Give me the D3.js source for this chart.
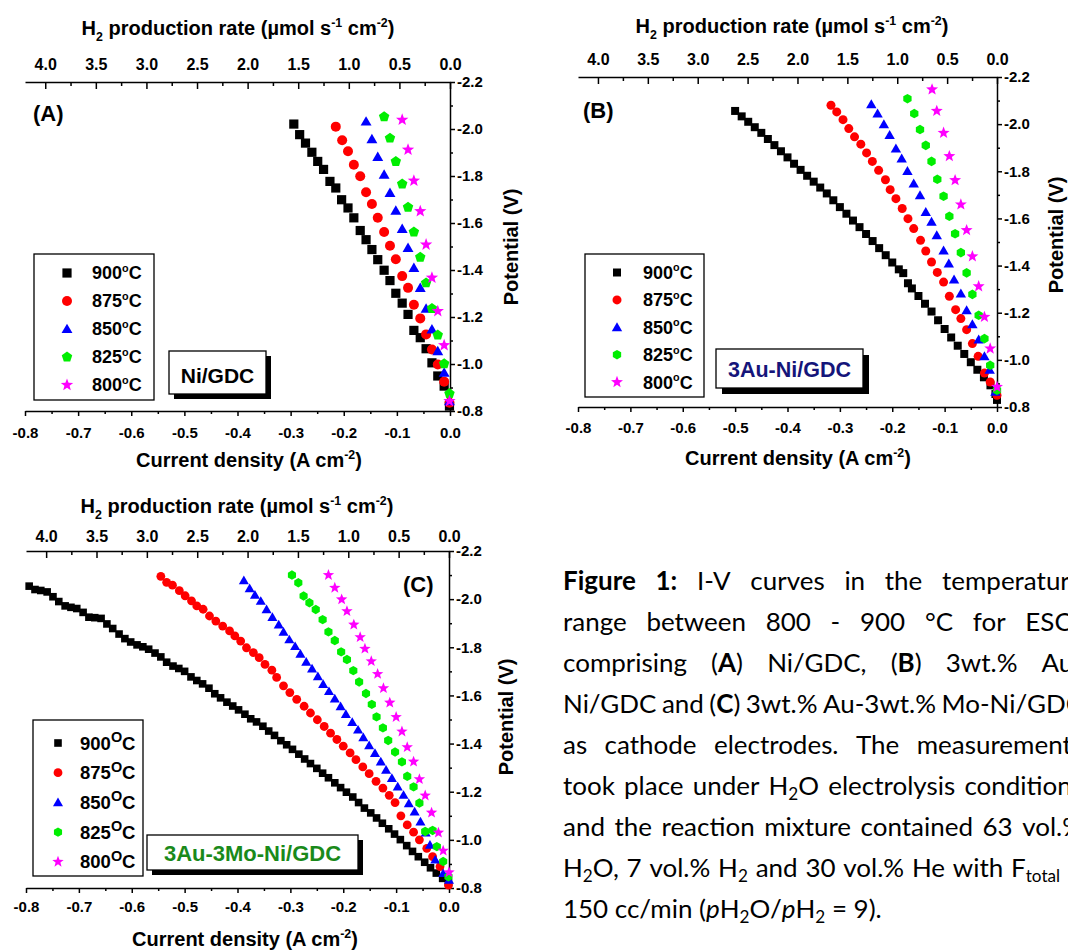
<!DOCTYPE html>
<html>
<head>
<meta charset="utf-8">
<script src="https://cdn.jsdelivr.net/npm/d3@7"></script>
<style>
  body { margin: 0; background: #fff; }
  svg { display: block; }
</style>
</head>
<body>
<script>
// ---- data (current density A cm-2, potential V) ----
const temps = ['900', '875', '850', '825', '800']
const currentTicks = [-0.8, -0.7, -0.6, -0.5, -0.4, -0.3, -0.2, -0.1, 0.0]
const potentialTicks = [-2.2, -2.0, -1.8, -1.6, -1.4, -1.2, -1.0, -0.8]
const rateTicks = [4.0, 3.5, 3.0, 2.5, 2.0, 1.5, 1.0, 0.5, 0.0]

// (A) Ni/GDC
const a900 = [[-0.294, -2.021], [-0.283, -1.976], [-0.272, -1.940], [-0.260, -1.901], [-0.249, -1.862], [-0.238, -1.828], [-0.226, -1.777], [-0.215, -1.749], [-0.204, -1.699], [-0.192, -1.664], [-0.181, -1.622], [-0.169, -1.568], [-0.158, -1.529], [-0.147, -1.487], [-0.136, -1.444], [-0.124, -1.399], [-0.113, -1.355], [-0.102, -1.301], [-0.090, -1.259], [-0.079, -1.211], [-0.068, -1.143], [-0.056, -1.112], [-0.045, -1.065], [-0.034, -1.005], [-0.023, -0.949], [-0.011, -0.906], [-0.001, -0.821]]
const a875 = [[-0.215, -2.010], [-0.203, -1.952], [-0.192, -1.905], [-0.181, -1.848], [-0.169, -1.799], [-0.158, -1.731], [-0.147, -1.681], [-0.136, -1.622], [-0.124, -1.562], [-0.113, -1.503], [-0.102, -1.446], [-0.090, -1.374], [-0.079, -1.324], [-0.068, -1.252], [-0.056, -1.194], [-0.045, -1.126], [-0.034, -1.062], [-0.023, -0.998], [-0.011, -0.925], [-0.001, -0.835]]
const a850 = [[-0.158, -2.032], [-0.147, -1.957], [-0.136, -1.881], [-0.124, -1.806], [-0.113, -1.728], [-0.102, -1.653], [-0.090, -1.575], [-0.079, -1.494], [-0.068, -1.409], [-0.056, -1.324], [-0.045, -1.236], [-0.034, -1.147], [-0.023, -1.055], [-0.011, -0.963], [-0.001, -0.842]]
const a825 = [[-0.124, -2.052], [-0.113, -1.961], [-0.102, -1.862], [-0.090, -1.766], [-0.079, -1.667], [-0.068, -1.562], [-0.056, -1.454], [-0.045, -1.345], [-0.034, -1.236], [-0.023, -1.123], [-0.011, -1.001], [-0.001, -0.874]]
const a800 = [[-0.090, -2.039], [-0.079, -1.912], [-0.068, -1.780], [-0.056, -1.650], [-0.045, -1.508], [-0.034, -1.367], [-0.023, -1.225], [-0.011, -1.080], [-0.001, -0.842]]

// (B) 3Au-Ni/GDC
const b900 = [[-0.500, -2.056], [-0.4875, -2.033], [-0.475, -2.010], [-0.4625, -1.987], [-0.450, -1.963], [-0.4375, -1.937], [-0.425, -1.911], [-0.4125, -1.885], [-0.400, -1.859], [-0.3875, -1.832], [-0.375, -1.806], [-0.3625, -1.781], [-0.350, -1.756], [-0.3375, -1.731], [-0.325, -1.706], [-0.3125, -1.677], [-0.300, -1.648], [-0.2875, -1.620], [-0.275, -1.591], [-0.2625, -1.563], [-0.250, -1.534], [-0.2375, -1.504], [-0.225, -1.474], [-0.2125, -1.444], [-0.200, -1.413], [-0.1875, -1.384], [-0.179, -1.368], [-0.170, -1.325], [-0.1625, -1.303], [-0.150, -1.271], [-0.1375, -1.238], [-0.125, -1.205], [-0.1125, -1.168], [-0.100, -1.131], [-0.0875, -1.095], [-0.075, -1.060], [-0.0625, -1.025], [-0.050, -0.990], [-0.0375, -0.958], [-0.025, -0.926], [-0.0125, -0.892], [-0.003, -0.855], [0.0, -0.830]]
const b875 = [[-0.317, -2.080], [-0.306, -2.052], [-0.294, -2.019], [-0.283, -1.981], [-0.272, -1.946], [-0.260, -1.915], [-0.249, -1.878], [-0.238, -1.842], [-0.226, -1.804], [-0.213, -1.764], [-0.204, -1.722], [-0.193, -1.684], [-0.181, -1.642], [-0.170, -1.599], [-0.159, -1.557], [-0.146, -1.507], [-0.136, -1.462], [-0.125, -1.415], [-0.114, -1.371], [-0.102, -1.330], [-0.091, -1.270], [-0.079, -1.213], [-0.069, -1.175], [-0.058, -1.128], [-0.047, -1.069], [-0.036, -1.015], [-0.024, -0.944], [-0.013, -0.906], [0.0, -0.850]]
const b850 = [[-0.240, -2.084], [-0.228, -2.045], [-0.216, -1.999], [-0.205, -1.953], [-0.193, -1.896], [-0.182, -1.854], [-0.171, -1.801], [-0.159, -1.748], [-0.147, -1.698], [-0.136, -1.627], [-0.125, -1.585], [-0.115, -1.528], [-0.102, -1.464], [-0.092, -1.408], [-0.082, -1.340], [-0.069, -1.281], [-0.058, -1.210], [-0.047, -1.151], [-0.035, -1.086], [-0.024, -1.015], [-0.014, -0.958], [-0.003, -0.864]]
const b825 = [[-0.171, -2.108], [-0.158, -2.045], [-0.147, -1.977], [-0.136, -1.910], [-0.125, -1.842], [-0.114, -1.766], [-0.102, -1.694], [-0.091, -1.609], [-0.080, -1.535], [-0.069, -1.455], [-0.058, -1.369], [-0.047, -1.278], [-0.035, -1.189], [-0.024, -1.090], [-0.013, -0.977], [0.0, -0.871]]
const b800 = [[-0.124, -2.147], [-0.115, -2.056], [-0.102, -1.963], [-0.091, -1.864], [-0.080, -1.762], [-0.069, -1.659], [-0.058, -1.550], [-0.047, -1.439], [-0.035, -1.312], [-0.024, -1.182], [-0.013, -1.048], [0.0, -0.885]]

// (C) 3Au-3Mo-Ni/GDC
const c900 = [[-0.794, -2.054], [-0.783, -2.040], [-0.772, -2.036], [-0.760, -2.030], [-0.749, -2.010], [-0.738, -1.990], [-0.726, -1.972], [-0.715, -1.966], [-0.704, -1.961], [-0.692, -1.945], [-0.681, -1.925], [-0.670, -1.923], [-0.658, -1.920], [-0.647, -1.897], [-0.636, -1.878], [-0.624, -1.855], [-0.613, -1.836], [-0.602, -1.822], [-0.590, -1.810], [-0.579, -1.802], [-0.568, -1.792], [-0.556, -1.776], [-0.545, -1.760], [-0.534, -1.738], [-0.522, -1.722], [-0.511, -1.712], [-0.500, -1.700], [-0.488, -1.677], [-0.477, -1.662], [-0.466, -1.648], [-0.454, -1.630], [-0.443, -1.607], [-0.432, -1.590], [-0.420, -1.572], [-0.409, -1.556], [-0.398, -1.540], [-0.386, -1.522], [-0.375, -1.503], [-0.364, -1.490], [-0.352, -1.472], [-0.341, -1.452], [-0.330, -1.434], [-0.318, -1.412], [-0.307, -1.395], [-0.296, -1.376], [-0.284, -1.356], [-0.273, -1.336], [-0.262, -1.317], [-0.250, -1.297], [-0.239, -1.277], [-0.228, -1.258], [-0.216, -1.237], [-0.205, -1.217], [-0.194, -1.198], [-0.182, -1.178], [-0.171, -1.155], [-0.160, -1.132], [-0.148, -1.112], [-0.137, -1.091], [-0.126, -1.069], [-0.114, -1.046], [-0.103, -1.024], [-0.092, -1.001], [-0.080, -0.976], [-0.069, -0.952], [-0.058, -0.930], [-0.046, -0.907], [-0.035, -0.884], [-0.024, -0.862], [-0.012, -0.840], [-0.001, -0.822]]
const c875 = [[-0.545, -2.095], [-0.534, -2.070], [-0.523, -2.058], [-0.510, -2.035], [-0.499, -2.014], [-0.487, -1.993], [-0.477, -1.972], [-0.465, -1.958], [-0.453, -1.930], [-0.441, -1.909], [-0.428, -1.888], [-0.415, -1.868], [-0.405, -1.847], [-0.394, -1.826], [-0.383, -1.798], [-0.370, -1.778], [-0.359, -1.757], [-0.348, -1.729], [-0.335, -1.705], [-0.326, -1.675], [-0.313, -1.640], [-0.301, -1.612], [-0.288, -1.584], [-0.274, -1.555], [-0.262, -1.527], [-0.249, -1.499], [-0.236, -1.471], [-0.224, -1.443], [-0.212, -1.417], [-0.200, -1.389], [-0.187, -1.361], [-0.176, -1.333], [-0.163, -1.303], [-0.151, -1.275], [-0.138, -1.243], [-0.125, -1.215], [-0.113, -1.185], [-0.102, -1.155], [-0.091, -1.100], [-0.079, -1.062], [-0.067, -1.032], [-0.056, -1.000], [-0.042, -0.965], [-0.031, -0.930], [-0.017, -0.889], [-0.001, -0.812]]
const c850 = [[-0.388, -2.078], [-0.377, -2.044], [-0.367, -2.017], [-0.356, -1.992], [-0.345, -1.957], [-0.334, -1.925], [-0.322, -1.894], [-0.313, -1.864], [-0.302, -1.832], [-0.291, -1.804], [-0.281, -1.772], [-0.270, -1.739], [-0.259, -1.711], [-0.248, -1.679], [-0.238, -1.647], [-0.227, -1.617], [-0.216, -1.586], [-0.205, -1.554], [-0.195, -1.522], [-0.183, -1.489], [-0.172, -1.457], [-0.162, -1.425], [-0.151, -1.392], [-0.140, -1.360], [-0.129, -1.325], [-0.119, -1.290], [-0.108, -1.256], [-0.097, -1.221], [-0.086, -1.186], [-0.076, -1.151], [-0.065, -1.117], [-0.054, -1.075], [-0.044, -1.030], [-0.036, -0.979], [-0.026, -0.917], [-0.011, -0.861], [0.0, -0.833]]
const c825 = [[-0.297, -2.100], [-0.285, -2.068], [-0.275, -2.013], [-0.264, -1.985], [-0.252, -1.957], [-0.239, -1.915], [-0.228, -1.864], [-0.216, -1.828], [-0.204, -1.781], [-0.193, -1.749], [-0.181, -1.703], [-0.170, -1.656], [-0.157, -1.608], [-0.146, -1.563], [-0.137, -1.511], [-0.125, -1.465], [-0.115, -1.413], [-0.102, -1.365], [-0.089, -1.324], [-0.079, -1.264], [-0.067, -1.220], [-0.056, -1.153], [-0.045, -1.035], [-0.031, -1.039], [-0.023, -0.972], [-0.011, -0.910], [-0.001, -0.847]]
const c800 = [[-0.228, -2.100], [-0.216, -2.047], [-0.203, -1.999], [-0.193, -1.950], [-0.180, -1.894], [-0.168, -1.842], [-0.159, -1.794], [-0.147, -1.742], [-0.135, -1.689], [-0.124, -1.630], [-0.112, -1.570], [-0.100, -1.510], [-0.089, -1.450], [-0.079, -1.385], [-0.067, -1.325], [-0.056, -1.252], [-0.045, -1.184], [-0.033, -1.113], [-0.020, -1.030], [-0.011, -0.955], [0.0, -0.865]]

const captionLines = [
  '**Figure 1:** I-V curves in the temperature',
  'range between 800 - 900 °C for ESCs',
  'comprising (**A**) Ni/GDC, (**B**) 3wt.% Au-',
  'Ni/GDC and (**C**) 3wt.% Au-3wt.% Mo-Ni/GDC',
  'as cathode electrodes. The measurements',
  'took place under H~2~O electrolysis conditions',
  'and the reaction mixture contained 63 vol.%',
  'H~2~O, 7 vol.% H~2~ and 30 vol.% He with F~total~ =',
  '150 cc/min (_p_H~2~O/_p_H~2~ = 9).'
]

const colours = ['#000000', '#ff0000', '#0000ff', '#00ee00', '#ff00ff']
const axisFont = "'Liberation Sans', Arial, sans-serif"
const captionFont = "Lato, 'Open Sans', sans-serif"

const svg = d3.select('body').append('svg')
  .attr('width', 1068)
  .attr('height', 950)

const fmt = d => d3.format('.1f')(d).replace('\u2212', '-')

// marker outline: regular polygons, star, circle, square
function markerPath (shape, r) {
  if (shape === 'circle') return d3.symbol(d3.symbolCircle, Math.PI * r * r)()
  if (shape === 'square') return `M${-r},${-r}h${2 * r}v${2 * r}h${-2 * r}Z`
  const pts = []
  if (shape === 'star') {
    for (let k = 0; k < 10; k++) {
      const rr = k % 2 ? r * 0.42 : r
      const a = -Math.PI / 2 + k * Math.PI / 5
      pts.push([rr * Math.cos(a), rr * Math.sin(a)])
    }
  } else {
    const n = { triangle: 3, pentagon: 5, hexagon: 6 }[shape]
    const dy = shape === 'triangle' ? r * 0.15 : 0
    for (let k = 0; k < n; k++) {
      const a = -Math.PI / 2 + k * 2 * Math.PI / n
      pts.push([r * Math.cos(a), r * Math.sin(a) + dy])
    }
  }
  return 'M' + pts.map(p => p.map(v => v.toFixed(2)).join(',')).join('L') + 'Z'
}

// text with sub/superscript parts: [[text, 'sub'|'sup'|undefined], ...]
function richText (parent, parts, size) {
  const t = parent.append('text')
    .attr('font-family', axisFont)
    .attr('font-weight', 'bold')
    .attr('font-size', size)
  let shift = 0
  parts.forEach(([str, kind]) => {
    const target = kind === 'sub' ? size * 0.3 : kind === 'sup' ? -size * 0.4 : 0
    const ts = t.append('tspan').text(str)
    if (target !== shift) ts.attr('dy', target - shift)
    if (kind) ts.attr('font-size', size * 0.62)
    shift = target
  })
  return t
}

function styleAxis (sel, size) {
  sel.attr('font-family', axisFont).attr('font-size', size).attr('font-weight', 'bold')
  sel.selectAll('path, line').attr('stroke', '#000').attr('stroke-width', 1.5)
  sel.selectAll('text').attr('fill', '#000')
}

function drawPanel (cfg) {
  const g = svg.append('g').attr('class', `panel-${cfg.id}`)
  const x = d3.scaleLinear().domain([-0.8, 0]).range([cfg.left, cfg.right])
  const y = d3.scaleLinear().domain([-0.8, -2.2]).range([cfg.bottom, cfg.top])
  const xRate = d3.scaleLinear().domain([4.2, 0]).range([cfg.left, cfg.right])

  const currentMinor = d3.range(-0.75, 0, 0.1)
  const potentialMinor = d3.range(-2.1, -0.85, 0.2)
  const rateMinor = d3.range(3.75, 0, -0.5)

  // bottom axis
  g.append('g').attr('transform', `translate(0,${cfg.bottom})`)
    .call(d3.axisBottom(x).tickValues(currentMinor).tickFormat('').tickSize(3).tickSizeOuter(0))
    .call(s => s.select('.domain').remove())
    .call(s => styleAxis(s, 15))
  g.append('g').attr('transform', `translate(0,${cfg.bottom})`)
    .call(d3.axisBottom(x).tickValues(currentTicks).tickFormat(fmt).tickSize(5).tickPadding(cfg.bottomPad).tickSizeOuter(0))
    .call(s => styleAxis(s, 15))

  // top axis (H2 production rate), ticks point inward
  g.append('g').attr('transform', `translate(0,${cfg.top})`)
    .call(d3.axisTop(xRate).tickValues(rateMinor).tickFormat('').tickSize(-4).tickSizeOuter(0))
    .call(s => s.select('.domain').remove())
    .call(s => styleAxis(s, 16))
  g.append('g').attr('transform', `translate(0,${cfg.top})`)
    .call(d3.axisTop(xRate).tickValues(rateTicks).tickFormat(d => d.toFixed(1)).tickSize(-7).tickPadding(cfg.topPad).tickSizeOuter(0))
    .call(s => styleAxis(s, 16))

  // right axis (potential)
  g.append('g').attr('transform', `translate(${cfg.right},0)`)
    .call(d3.axisRight(y).tickValues(potentialMinor).tickFormat('').tickSize(3).tickSizeOuter(0))
    .call(s => s.select('.domain').remove())
    .call(s => styleAxis(s, 15))
  g.append('g').attr('transform', `translate(${cfg.right},0)`)
    .call(d3.axisRight(y).tickValues(potentialTicks).tickFormat(fmt).tickSize(5).tickPadding(2).tickSizeOuter(0))
    .call(s => styleAxis(s, 15))

  // axis titles
  richText(g, [['H'], ['2', 'sub'], [' production rate (\u00b5mol s'], ['-1', 'sup'], [' cm'], ['-2', 'sup'], [')']], 20)
    .attr('x', cfg.titleX).attr('y', cfg.titleY).attr('text-anchor', 'middle')
  richText(g, [['Current density (A cm'], ['-2', 'sup'], [')']], 20)
    .attr('x', cfg.xTitleX).attr('y', cfg.xTitleY).attr('text-anchor', 'middle')
  richText(g, [['Potential (V)']], 20)
    .attr('text-anchor', 'middle')
    .attr('transform', `translate(${cfg.potX},${cfg.potY}) rotate(-90)`)

  // data markers, 900 first so cooler runs sit on top
  cfg.series.forEach((data, i) => {
    g.append('g').attr('class', `series-${temps[i]}`)
      .selectAll('path')
      .data(data)
      .join('path')
      .attr('transform', d => `translate(${x(d[0])},${y(d[1])})`)
      .attr('d', markerPath(cfg.shapes[i], cfg.sizes[i]))
      .attr('fill', colours[i])
  })

  // legend
  const lg = cfg.legend
  const legend = g.append('g').attr('class', 'legend')
  legend.append('rect')
    .attr('x', lg.x).attr('y', lg.y).attr('width', lg.w).attr('height', lg.h)
    .attr('fill', '#fff').attr('stroke', '#000').attr('stroke-width', 1.3)
  temps.forEach((t, i) => {
    const ry = lg.row0 + i * lg.step
    legend.append('path')
      .attr('transform', `translate(${lg.symX},${ry})`)
      .attr('d', markerPath(cfg.shapes[i], cfg.sizes[i]))
      .attr('fill', colours[i])
    const txt = legend.append('text')
      .attr('x', lg.textX).attr('y', ry + lg.size * 0.36)
      .attr('font-family', axisFont).attr('font-weight', 'bold').attr('font-size', lg.size)
    txt.append('tspan').text(t)
    txt.append('tspan').text(lg.degree).attr('font-size', lg.size * lg.degreeScale).attr('dy', -lg.size * 0.42)
    txt.append('tspan').text('C').attr('dy', lg.size * 0.42)
  })

  // sample name box with drop shadow
  const bx = cfg.box
  g.append('rect')
    .attr('x', bx.x + bx.shadow).attr('y', bx.y + bx.shadow).attr('width', bx.w).attr('height', bx.h)
    .attr('fill', '#000')
  g.append('rect')
    .attr('x', bx.x).attr('y', bx.y).attr('width', bx.w).attr('height', bx.h)
    .attr('fill', '#fff').attr('stroke', '#000').attr('stroke-width', 1.3)
  g.append('text')
    .attr('x', bx.x + bx.w / 2).attr('y', bx.textY)
    .attr('text-anchor', 'middle')
    .attr('font-family', axisFont).attr('font-weight', 'bold').attr('font-size', bx.size)
    .attr('fill', bx.colour)
    .text(cfg.name)

  // panel letter
  g.append('text')
    .attr('x', cfg.letterX).attr('y', cfg.letterY)
    .attr('font-family', axisFont).attr('font-weight', 'bold').attr('font-size', 22)
    .text(`(${cfg.id})`)
}

drawPanel({
  id: 'A',
  name: 'Ni/GDC',
  series: [a900, a875, a850, a825, a800],
  shapes: ['square', 'circle', 'triangle', 'pentagon', 'star'],
  sizes: [4.6, 5.0, 6.3, 5.5, 6.5],
  left: 25, right: 450, top: 82, bottom: 411,
  topPad: 12, bottomPad: 11,
  titleX: 238, titleY: 35, xTitleX: 249, xTitleY: 467, potX: 518, potY: 247,
  letterX: 33, letterY: 121,
  legend: { x: 34, y: 254, w: 120, h: 146, symX: 67, textX: 92, row0: 273, step: 28, size: 18, degree: 'o', degreeScale: 0.6 },
  box: { x: 169, y: 351, w: 97, h: 43, shadow: 5, textY: 383, size: 21, colour: '#000' }
})

drawPanel({
  id: 'B',
  name: '3Au-Ni/GDC',
  series: [b900, b875, b850, b825, b800],
  shapes: ['square', 'circle', 'triangle', 'hexagon', 'star'],
  sizes: [4.0, 4.5, 6.0, 4.8, 6.3],
  left: 578, right: 997, top: 77, bottom: 407,
  topPad: 12, bottomPad: 10,
  titleX: 792, titleY: 33, xTitleX: 798, xTitleY: 465, potX: 1063, potY: 235,
  letterX: 583, letterY: 118,
  legend: { x: 585, y: 254, w: 119, h: 143, symX: 617, textX: 643, row0: 272.5, step: 27.4, size: 18, degree: 'o', degreeScale: 0.6 },
  box: { x: 716, y: 349, w: 147, h: 39, shadow: 6, textY: 377, size: 21.5, colour: '#15157a' }
})

drawPanel({
  id: 'C',
  name: '3Au-3Mo-Ni/GDC',
  series: [c900, c875, c850, c825, c800],
  shapes: ['square', 'circle', 'triangle', 'hexagon', 'star'],
  sizes: [3.8, 4.4, 5.8, 4.7, 6.0],
  left: 26, right: 449, top: 551, bottom: 888,
  topPad: 9, bottomPad: 8,
  titleX: 237, titleY: 513, xTitleX: 245, xTitleY: 946, potX: 513, potY: 717,
  letterX: 403, letterY: 592,
  legend: { x: 33, y: 720, w: 110, h: 156, symX: 58, textX: 80, row0: 743, step: 29.7, size: 18.5, degree: 'O', degreeScale: 0.78 },
  box: { x: 147, y: 835, w: 211, h: 35, shadow: 5, textY: 861, size: 22, colour: '#1a8a1a' }
})

// ---- caption, justified like the source page ----
function parseRich (s) {
  const chars = []
  let bold = false
  let italic = false
  let sub = false
  for (let i = 0; i < s.length; i++) {
    if (s.startsWith('**', i)) { bold = !bold; i++; continue }
    if (s[i] === '_') { italic = !italic; continue }
    if (s[i] === '~') { sub = !sub; continue }
    chars.push({ ch: s[i], bold, italic, sub })
  }
  const words = [[]]
  chars.forEach(c => {
    if (c.ch === ' ') words.push([])
    else words[words.length - 1].push(c)
  })
  return words.filter(w => w.length).map(w => {
    const runs = []
    w.forEach(c => {
      const last = runs[runs.length - 1]
      if (last && last.bold === c.bold && last.italic === c.italic && last.sub === c.sub) last.text += c.ch
      else runs.push({ text: c.ch, bold: c.bold, italic: c.italic, sub: c.sub })
    })
    return runs
  })
}

function addWord (parent, runs, fs) {
  const t = parent.append('text')
    .attr('font-family', captionFont)
    .attr('font-size', fs)
    .attr('fill', '#000')
  let shifted = false
  runs.forEach(r => {
    const ts = t.append('tspan').text(r.text)
      .attr('font-weight', r.bold ? 'bold' : 'normal')
      .attr('font-style', r.italic ? 'italic' : 'normal')
    if (r.sub) ts.attr('font-size', fs * 0.66)
    if (r.sub && !shifted) { ts.attr('dy', fs * 0.2); shifted = true } else if (!r.sub && shifted) { ts.attr('dy', -fs * 0.2); shifted = false }
  })
  return t
}

const capLeft = 563
const capRight = 1083
const capTop = 590
const capStep = 41
const caption = svg.append('g').attr('class', 'caption')

// size the font so the last (unjustified) line is as wide as in the source
const probe = caption.append('g')
let probeW = 0
const probeWords = parseRich(captionLines[captionLines.length - 1])
probeWords.forEach(w => { probeW += addWord(probe, w, 20).node().getComputedTextLength() })
const spaceProbe = probe.append('text').attr('font-family', captionFont).attr('font-size', 20).text('a a')
const spaceW = spaceProbe.node().getComputedTextLength() - 2 * probe.append('text').attr('font-family', captionFont).attr('font-size', 20).text('a').node().getComputedTextLength()
probeW += spaceW * (probeWords.length - 1)
probe.remove()
const capSize = 20 * 319 / probeW

captionLines.forEach((line, li) => {
  const words = parseRich(line)
  const lineG = caption.append('g').attr('transform', `translate(0,${capTop + li * capStep})`)
  const nodes = words.map(w => addWord(lineG, w, capSize))
  const widths = nodes.map(n => n.node().getComputedTextLength())
  const total = d3.sum(widths)
  const natural = spaceW * capSize / 20
  const last = li === captionLines.length - 1
  const gap = last ? natural : Math.max(natural * 0.5, (capRight - capLeft - total) / (words.length - 1))
  let cx = capLeft
  nodes.forEach((n, i) => {
    n.attr('x', cx)
    cx += widths[i] + gap
  })
})
</script>
</body>
</html>
